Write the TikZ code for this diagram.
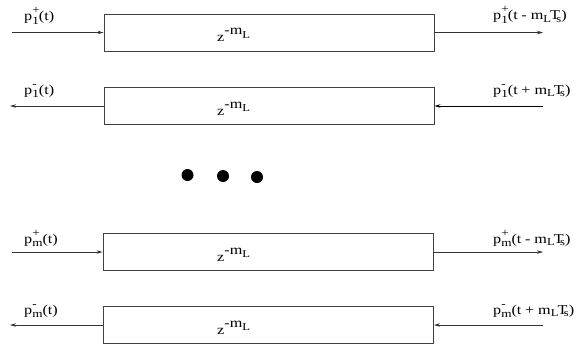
\documentclass[tikz,border=0pt]{standalone}
\usepackage{fontspec}
\setmainfont{Liberation Serif}[FakeStretch=1.2]
\usetikzlibrary{arrows.meta}
\newcommand{\sig}[3]{p\makebox[0pt][l]{\raisebox{1.05ex}{\fontsize{11}{11}\selectfont #1}}\raisebox{-0.6ex}{\fontsize{11}{11}\selectfont #2}#3}
\newcommand{\shiftT}[1]{(t\kern-0.5pt{} #1 m\raisebox{-0.45ex}{\fontsize{10.5}{10.5}\selectfont L}\kern-1pt T\kern-3.5pt\raisebox{-0.45ex}{\fontsize{10.5}{10.5}\selectfont s})}
\newcommand{\delayz}{z\raisebox{1.1ex}{-m\raisebox{-0.6ex}{\fontsize{10.5}{10.5}\selectfont L}}}
\begin{document}
\begin{tikzpicture}[x=1pt,y=-1pt,
  delaybox/.style={draw=black!75,line width=0.9pt,minimum width=330pt,minimum height=37pt,inner sep=0pt},
  sigarrow/.style={draw=black!80,line width=0.8pt,-{Stealth[length=6pt,width=3.5pt]}},
  lbl/.style={anchor=base west,inner sep=0pt,font=\fontsize{13.5}{15}\selectfont},
  ztxt/.style={anchor=base west,inner sep=0pt,font=\fontsize{13.5}{15}\selectfont},
  dot/.style={circle,fill=black,minimum size=12pt,inner sep=0pt}]
\useasboundingbox (0,0) rectangle (581,349);
% boxes
\node[delaybox] (b1) at (269,32.5) {};
\node[delaybox] (b2) at (269,106) {};
\node[delaybox] (b3) at (268,252) {};
\node[delaybox] (b4) at (268.5,325) {};
% delay texts
\node[ztxt] (z1) at (217,41.5) {\delayz};
\node[ztxt] (z2) at (217,115) {\delayz};
\node[ztxt] (z3) at (217,261) {\delayz};
\node[ztxt] (z4) at (217,334) {\delayz};
% arrow end coordinates
\coordinate (l1) at (12,32.5);
\coordinate (r1) at (543,32.5);
\coordinate (l2) at (10,106);
\coordinate (r2) at (543,106);
\coordinate (l3) at (12,252);
\coordinate (r3) at (543,252);
\coordinate (l4) at (10,325);
\coordinate (r4) at (543,325);
% arrows
\draw[sigarrow] (l1) -- (b1.west);
\draw[sigarrow] (b1.east) -- (r1);
\draw[sigarrow] (b2.west) -- (l2);
\draw[sigarrow,line width=0.95pt,draw=black] (r2) -- (b2.east);
\draw[sigarrow] (l3) -- (b3.west);
\draw[sigarrow] (b3.east) -- (r3);
\draw[sigarrow] (b4.west) -- (l4);
\draw[sigarrow] (r4) -- (b4.east);
% labels
\node[lbl] (t1l) at (24,20.5) {\sig{+}{1}{(t)}};
\node[lbl] (t1r) at (493,19.5) {\sig{+}{1}{\shiftT{-}}};
\node[lbl] (t2l) at (24,94) {\sig{-}{1}{(t)}};
\node[lbl] (t2r) at (493,94) {\sig{-}{1}{\shiftT{+}}};
\node[lbl] (t3l) at (24,243) {\sig{+}{m}{(t)}};
\node[lbl] (t3r) at (493,243) {\sig{+}{m}{\shiftT{-}}};
\node[lbl] (t4l) at (24,314) {\sig{-}{m}{(t)}};
\node[lbl] (t4r) at (493,314) {\sig{-}{m}{\shiftT{+}}};
% dots
\node[dot] (d1) at (187.5,175) {};
\node[dot] (d2) at (223,176) {};
\node[dot] (d3) at (257,177) {};
\end{tikzpicture}
\end{document}
